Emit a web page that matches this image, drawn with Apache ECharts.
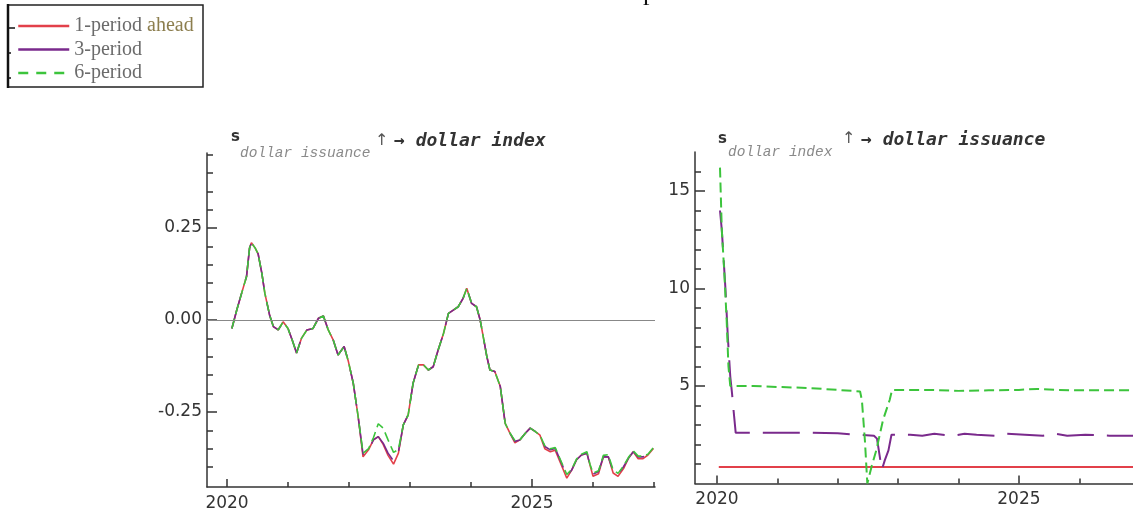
<!DOCTYPE html>
<html>
<head>
<meta charset="utf-8">
<script src="https://cdn.jsdelivr.net/npm/echarts@6/dist/echarts.min.js"></script>
<style>
  html, body { margin: 0; padding: 0; background: #fff; }
  #chart { width: 1133px; height: 513px; }
</style>
</head>
<body>
<div id="chart"></div>
<script>
// ---------- DATA ----------
const seriesNames = ['1-period ahead', '3-period', '6-period'];

// Left panel: s_dollar issuance ↑ → dollar index
const leftYears = [
  2020.08,2020.16,2020.24,2020.32,2020.37,2020.40,2020.46,2020.51,2020.57,2020.62,
  2020.70,2020.76,2020.84,2020.92,2021.00,2021.07,2021.14,2021.22,2021.31,2021.41,
  2021.50,2021.58,2021.66,2021.74,2021.82,2021.92,2021.99,2022.07,2022.15,2022.23,
  2022.32,2022.40,2022.48,2022.56,2022.64,2022.73,2022.81,2022.89,2022.97,2023.05,
  2023.14,2023.22,2023.30,2023.38,2023.46,2023.55,2023.63,2023.71,2023.79,2023.87,
  2023.93,2024.01,2024.09,2024.15,2024.20,2024.26,2024.31,2024.39,2024.48,2024.56,
  2024.64,2024.72,2024.80,2024.89,2024.97,2025.05,2025.13,2025.21,2025.30,2025.38,
  2025.46,2025.57,2025.65,2025.73,2025.81,2025.90,2025.95,2026.00,2026.09,2026.17,
  2026.25,2026.33,2026.41,2026.50,2026.58,2026.66,2026.74,2026.82,2026.90,2026.99
];
const leftRed = [
  -0.023,0.027,0.073,0.118,0.196,0.210,0.196,0.180,0.128,0.073,
  0.012,-0.018,-0.027,-0.005,-0.023,-0.055,-0.090,-0.050,-0.027,-0.023,
  0.005,0.011,-0.027,-0.054,-0.095,-0.072,-0.113,-0.172,-0.263,-0.372,
  -0.353,-0.326,-0.317,-0.338,-0.368,-0.392,-0.362,-0.285,-0.258,-0.172,
  -0.122,-0.122,-0.136,-0.127,-0.082,-0.036,0.018,0.027,0.036,0.059,
  0.086,0.045,0.036,0.000,-0.045,-0.100,-0.136,-0.140,-0.181,-0.281,
  -0.308,-0.334,-0.326,-0.308,-0.294,-0.303,-0.313,-0.350,-0.358,-0.354,
  -0.386,-0.430,-0.408,-0.380,-0.367,-0.362,-0.394,-0.425,-0.418,-0.372,
  -0.372,-0.416,-0.425,-0.404,-0.376,-0.358,-0.377,-0.377,-0.367,-0.349
];
const leftPurple = [
  -0.023,0.027,0.073,0.118,0.196,0.210,0.196,0.180,0.128,0.073,
  0.012,-0.018,-0.027,-0.005,-0.023,-0.055,-0.090,-0.050,-0.027,-0.023,
  0.005,0.011,-0.027,-0.054,-0.095,-0.072,-0.113,-0.172,-0.263,-0.365,
  -0.353,-0.326,-0.317,-0.335,-0.362,-0.383,-0.358,-0.285,-0.258,-0.172,
  -0.122,-0.122,-0.136,-0.127,-0.082,-0.036,0.018,0.027,0.036,0.059,
  0.086,0.045,0.036,0.000,-0.045,-0.100,-0.136,-0.140,-0.181,-0.281,
  -0.308,-0.330,-0.326,-0.308,-0.294,-0.303,-0.313,-0.344,-0.353,-0.349,
  -0.380,-0.424,-0.408,-0.380,-0.367,-0.362,-0.394,-0.419,-0.412,-0.372,
  -0.372,-0.410,-0.419,-0.399,-0.376,-0.358,-0.372,-0.372,-0.367,-0.349
];
const leftGreen = [
  -0.023,0.027,0.073,0.118,0.196,0.210,0.196,0.180,0.128,0.073,
  0.012,-0.018,-0.027,-0.005,-0.023,-0.055,-0.090,-0.050,-0.027,-0.023,
  0.005,0.011,-0.027,-0.054,-0.095,-0.072,-0.113,-0.172,-0.263,-0.362,
  -0.350,-0.320,-0.282,-0.294,-0.326,-0.360,-0.352,-0.285,-0.258,-0.172,
  -0.122,-0.122,-0.136,-0.127,-0.082,-0.036,0.018,0.027,0.036,0.059,
  0.086,0.045,0.036,0.000,-0.045,-0.100,-0.136,-0.140,-0.181,-0.281,
  -0.308,-0.328,-0.326,-0.308,-0.294,-0.303,-0.313,-0.342,-0.350,-0.347,
  -0.378,-0.420,-0.406,-0.378,-0.365,-0.358,-0.392,-0.416,-0.410,-0.368,
  -0.366,-0.408,-0.417,-0.397,-0.374,-0.356,-0.370,-0.370,-0.365,-0.347
];

// Right panel: s_dollar index ↑ → dollar issuance  ([year, value])
const rightRed = [[2020.03, 0.85], [2026.89, 0.85]];
const rightPurple = [
  [2020.05,14.0],[2020.08,13.0],[2020.11,11.5],[2020.14,10.0],[2020.18,7.5],
  [2020.22,5.5],[2020.25,4.6],[2020.27,3.9],[2020.31,2.6],[2020.6,2.6],
  [2021.0,2.6],[2021.5,2.6],[2022.0,2.58],[2022.3,2.5],[2022.6,2.45],
  [2022.65,2.3],[2022.73,0.7],[2022.78,1.2],[2022.84,1.7],[2022.89,2.5],
  [2023.2,2.5],[2023.4,2.45],[2023.6,2.55],[2023.9,2.45],[2024.1,2.55],
  [2024.3,2.5],[2024.6,2.45],[2024.8,2.55],[2025.1,2.5],[2025.4,2.45],
  [2025.6,2.55],[2025.8,2.45],[2026.1,2.5],[2026.5,2.45],[2026.89,2.45]
];
const rightGreen = [
  [2020.05,16.2],[2020.08,13.0],[2020.12,10.9],[2020.16,8.4],[2020.19,6.0],
  [2020.22,5.0],[2020.6,5.0],[2021.0,4.95],[2021.5,4.9],[2022.0,4.8],
  [2022.37,4.72],[2022.40,4.28],[2022.45,2.2],[2022.49,0.0],[2022.52,0.0],
  [2022.56,0.86],[2022.64,1.72],[2022.75,3.26],[2022.86,4.28],[2022.9,4.8],
  [2023.5,4.8],[2024.0,4.75],[2024.5,4.78],[2025.0,4.8],[2025.3,4.85],
  [2025.6,4.8],[2026.0,4.78],[2026.89,4.78]
];

// Tick values
const leftXMajor = [2020, 2025];
const leftXMinor = [2021, 2022, 2023, 2024, 2026, 2027];
const leftYMajor = [-0.25, 0, 0.25];
const leftYMinor = [-0.4,-0.35,-0.3,-0.2,-0.15,-0.1,-0.05,0.05,0.1,0.15,0.2,0.3,0.35,0.4,0.45];
const rightXMajor = [2020, 2025];
const rightXMinor = [2021, 2022, 2023, 2024, 2026];
const rightYMajor = [5, 10, 15];
const rightYMinor = [1,2,3,4,6,7,8,9,11,12,13,14,16];

// ---------- STYLE ----------
const RED = '#e2404a', PURPLE = '#7a2a8c', GREEN = '#3cc43c';
const AX = '#333';
const labelFont = { fontFamily: 'DejaVu Sans', fontSize: 17, color: '#333' };

function xAxes(grid, min, max, major, minor) {
  return [
    { type: 'value', gridIndex: grid, min, max, position: 'bottom',
      axisLine: { show: true, onZero: false, lineStyle: { color: AX, width: 1.5 } },
      axisTick: { show: true, inside: true, length: 8, customValues: major, lineStyle: { color: AX, width: 1.5 } },
      axisLabel: { show: true, customValues: major, margin: 8, formatter: v => String(v), ...labelFont },
      splitLine: { show: false } },
    { type: 'value', gridIndex: grid, min, max, position: 'bottom',
      axisLine: { show: false, onZero: false },
      axisTick: { show: true, inside: true, length: 5, customValues: minor, lineStyle: { color: AX, width: 1.5 } },
      axisLabel: { show: false }, splitLine: { show: false } }
  ];
}
function yAxes(grid, min, max, major, minor, fmt) {
  return [
    { type: 'value', gridIndex: grid, min, max, position: 'left',
      axisLine: { show: true, onZero: false, lineStyle: { color: AX, width: 1.5 } },
      axisTick: { show: true, inside: true, length: 10, customValues: major, lineStyle: { color: AX, width: 1.5 } },
      axisLabel: { show: true, customValues: major, margin: 5, formatter: fmt, ...labelFont },
      splitLine: { show: false } },
    { type: 'value', gridIndex: grid, min, max, position: 'left',
      axisLine: { show: false, onZero: false },
      axisTick: { show: true, inside: true, length: 6, customValues: minor, lineStyle: { color: AX, width: 1.5 } },
      axisLabel: { show: false }, splitLine: { show: false } }
  ];
}

const zip = (xs, ys) => xs.map((x, i) => [x, ys[i]]);
const line = (name, xi, yi, data, color, type, width, extra) => Object.assign({
  name, type: 'line', xAxisIndex: xi, yAxisIndex: yi, data,
  symbol: 'none', smooth: false, clip: true,
  lineStyle: { color, width, type }, itemStyle: { color }
}, extra || {});

const DASH_PURPLE = [37, 13];
const DASH_GREEN = [10, 5];
const hiddenSymbol = { opacity: 0, color: 'rgba(0,0,0,0)', borderWidth: 0 };

const chart = echarts.init(document.getElementById('chart'), null, { renderer: 'canvas' });
chart.setOption({
  animation: false,
  backgroundColor: '#fff',
  grid: [
    { left: 207, top: 153, width: 448, height: 334 },
    { left: 695, top: 152, width: 438, height: 331.5 }
  ],
  xAxis: [
    ...xAxes(0, 2019.672, 2027.016, leftXMajor, leftXMinor),
    ...xAxes(1, 2019.636, 2026.89, rightXMajor, rightXMinor)
  ],
  yAxis: [
    ...yAxes(0, -0.454, 0.454, leftYMajor, leftYMinor, v => v.toFixed(2)),
    ...yAxes(1, 0, 17, rightYMajor, rightYMinor, v => String(v))
  ],
  legend: {
    orient: 'vertical', left: 17, top: 16, padding: 0,
    itemWidth: 51, itemHeight: 14, itemGap: 3.5,
    itemStyle: hiddenSymbol,
    textStyle: { fontFamily: 'Liberation Serif', fontSize: 20, color: '#6b6b6b', lineHeight: 20,
      rich: { a: { fontFamily: 'Liberation Serif', fontSize: 20, color: '#6b6b6b' },
              b: { fontFamily: 'Liberation Serif', fontSize: 20, color: '#8c7e4e' } } },
    formatter: n => n === '1-period ahead' ? '{a|1-period }{b|ahead}' : n,
    data: [
      { name: seriesNames[0], itemStyle: hiddenSymbol, lineStyle: { width: 2.5, type: 'solid', color: RED } },
      { name: seriesNames[1], itemStyle: hiddenSymbol, lineStyle: { width: 2.5, type: 'solid', color: PURPLE } },
      { name: seriesNames[2], itemStyle: hiddenSymbol, lineStyle: { width: 2.5, type: [10, 8], color: GREEN } }
    ]
  },
  series: [
    line(seriesNames[0], 0, 0, zip(leftYears, leftRed), RED, 'solid', 1.6, {
      markLine: { silent: true, symbol: 'none', label: { show: false },
        lineStyle: { color: '#888', width: 1, type: 'solid' }, data: [{ yAxis: 0 }] }
    }),
    line(seriesNames[1], 0, 0, zip(leftYears, leftPurple), PURPLE, DASH_PURPLE, 1.6),
    line(seriesNames[2], 0, 0, zip(leftYears, leftGreen), GREEN, DASH_GREEN, 1.6),
    line(seriesNames[0], 2, 2, rightRed, RED, 'solid', 2),
    line(seriesNames[1], 2, 2, rightPurple, PURPLE, DASH_PURPLE, 2),
    line(seriesNames[2], 2, 2, rightGreen, GREEN, DASH_GREEN, 2)
  ],
  graphic: [
    // legend frame
    { type: 'rect', shape: { x: 8, y: 5, width: 195, height: 82 }, silent: true,
      style: { fill: 'none', stroke: '#222', lineWidth: 1.5 } },
    { type: 'line', shape: { x1: 8, y1: 4, x2: 8, y2: 88 }, silent: true, style: { stroke: '#111', lineWidth: 2.5 } },
    { type: 'line', shape: { x1: 8, y1: 28, x2: 15, y2: 28 }, silent: true, style: { stroke: '#111', lineWidth: 1.5 } },
    { type: 'line', shape: { x1: 8, y1: 53, x2: 11, y2: 53 }, silent: true, style: { stroke: '#111', lineWidth: 1.5 } },
    { type: 'line', shape: { x1: 8, y1: 78, x2: 11, y2: 78 }, silent: true, style: { stroke: '#111', lineWidth: 1.5 } },
    // cropped character at the top
    { type: 'text', x: 643, y: -7, silent: true,
      style: { text: 'p', font: '26px "Liberation Serif"', fill: '#111', align: 'left', verticalAlign: 'middle' } },
    // left title
    { type: 'text', x: 231, y: 137, silent: true,
      style: { text: 's', font: 'bold 15px "DejaVu Sans"', fill: '#333', align: 'left', verticalAlign: 'middle' } },
    { type: 'text', x: 240, y: 153, silent: true,
      style: { text: 'dollar issuance', font: 'italic 14.5px "Liberation Mono"', fill: '#8a8a8a', align: 'left', verticalAlign: 'middle' } },
    { type: 'text', x: 375, y: 141, silent: true,
      style: { text: '↑', font: '16px "DejaVu Sans"', fill: '#555', align: 'left', verticalAlign: 'middle' } },
    { type: 'text', x: 394, y: 141, silent: true,
      style: { text: '→ dollar index', font: 'italic bold 18px "DejaVu Sans Mono"', fill: '#333', align: 'left', verticalAlign: 'middle' } },
    // right title
    { type: 'text', x: 718, y: 139, silent: true,
      style: { text: 's', font: 'bold 15px "DejaVu Sans"', fill: '#333', align: 'left', verticalAlign: 'middle' } },
    { type: 'text', x: 728, y: 152, silent: true,
      style: { text: 'dollar index', font: 'italic 14.5px "Liberation Mono"', fill: '#8a8a8a', align: 'left', verticalAlign: 'middle' } },
    { type: 'text', x: 842, y: 139, silent: true,
      style: { text: '↑', font: '16px "DejaVu Sans"', fill: '#555', align: 'left', verticalAlign: 'middle' } },
    { type: 'text', x: 861, y: 140, silent: true,
      style: { text: '→ dollar issuance', font: 'italic bold 18px "DejaVu Sans Mono"', fill: '#333', align: 'left', verticalAlign: 'middle' } }
  ]
});
</script>
</body>
</html>
